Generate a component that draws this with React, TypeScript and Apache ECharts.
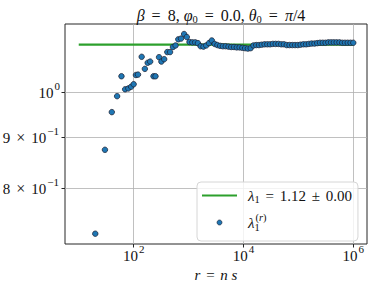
import { useEffect, useRef } from "react";
import * as echarts from "echarts";

// r = n s values (x) and the running estimate lambda_1^(r) (y)
const rValues = [
  20, 30, 40, 50, 60, 70, 80, 90, 100, 110, 120, 140, 160, 180, 200, 230, 250, 290, 320, 360,
  410, 460, 520, 580, 650, 730, 830, 930, 1040, 1170, 1320, 1480, 1660, 1870, 2100, 2360, 2650,
  2980, 3350, 3760, 4220, 4750, 5330, 5990, 6730, 7560, 8490, 9540, 10720, 12040, 13530, 15190,
  17070, 19170, 21540, 24200, 27180, 30530, 34300, 38530, 43280, 48620, 54620, 61350, 68920,
  77420, 86970, 97700, 109750, 123280, 138490, 155570, 174750, 196300, 220510, 247710, 278260,
  312570, 351120, 394420, 443060, 497700, 559080, 628030, 705480, 792480, 890220, 1000000,
];
const lambdaValues = [
  0.719, 0.874, 0.954, 0.99, 1.037, 1.006, 1.008, 1.012, 1.018, 1.04, 1.041, 1.085, 1.055, 1.07,
  1.073, 1.037, 1.037, 1.084, 1.073, 1.079, 1.097, 1.097, 1.11, 1.114, 1.13, 1.132, 1.144, 1.136,
  1.123, 1.122, 1.122, 1.12, 1.112, 1.111, 1.114, 1.12, 1.127, 1.118, 1.115, 1.113, 1.112, 1.112,
  1.111, 1.11, 1.11, 1.109, 1.109, 1.108, 1.107, 1.106, 1.107, 1.114, 1.115, 1.115, 1.116, 1.117,
  1.117, 1.117, 1.118, 1.118, 1.118, 1.117, 1.117, 1.115, 1.115, 1.115, 1.115, 1.115, 1.116,
  1.117, 1.117, 1.118, 1.119, 1.119, 1.12, 1.121, 1.121, 1.121, 1.122, 1.122, 1.122, 1.122,
  1.122, 1.121, 1.121, 1.121, 1.121, 1.121,
];
const fitValue = 1.116;
const fitError = 0.0;
const fitRange = [10, 1000000];
const xTicks = [100, 10000, 1000000];
const yTicks = [0.8, 0.9, 1.0];
const xLimits = [5.62, 1778000];
const yLimits = [0.702, 1.171];

const FONT = "'Liberation Serif', 'DejaVu Serif', serif";
const INK = "#111111";

export default function App() {
  const ref = useRef<HTMLDivElement>(null);
  useEffect(() => {
    const chart = echarts.init(ref.current!, null, { renderer: "svg" });
    const base = { fontFamily: FONT, color: INK, fontWeight: "normal" };
    const tickRich = {
      m: { ...base, fontSize: 15, lineHeight: 17, verticalAlign: "bottom" },
      op: { ...base, fontSize: 16, lineHeight: 17, verticalAlign: "bottom", padding: [0, 6, 0, 6] },
      s: { ...base, fontSize: 11, lineHeight: 11, padding: [0, 0, 9, 1], verticalAlign: "bottom" },
      sm: { ...base, fontSize: 11, lineHeight: 11, padding: [0, 1, 9, 1], verticalAlign: "bottom" },
    };
    const mk = (size: number, eqPad: number) => ({
      m: { ...base, fontSize: size, lineHeight: 17, verticalAlign: "middle" },
      e: { ...base, fontSize: size, lineHeight: 17, verticalAlign: "middle", padding: [0, eqPad, 0, eqPad] },
      i: { ...base, fontSize: size, lineHeight: 17, fontStyle: "italic", verticalAlign: "middle" },
      b: { ...base, fontSize: 10.5, lineHeight: 10, padding: [8, 0, 0, 0], verticalAlign: "middle" },
      b1: { ...base, fontSize: 10.5, lineHeight: 10, width: 1, padding: [9, 0, 0, 0], verticalAlign: "middle" },
      p: { ...base, fontSize: 10.5, lineHeight: 10, padding: [0, 0, 10, 0], verticalAlign: "middle" },
      pi: { ...base, fontSize: 10.5, lineHeight: 10, fontStyle: "italic", padding: [0, 0, 10, 0], verticalAlign: "middle" },
    });
    const mathRich = mk(15, 2);
    const titleRich = mk(16, 3);
    const fitName = "fit";
    const ptsName = "pts";
    chart.setOption({
      animation: false,
      title: {
        text: "{i|β} {e|=} {m|8,} {i|φ}{b|0} {e|=} {m|0.0,} {i|θ}{b|0} {e|=} {i|π}{m|/4}",
        left: 216,
        top: 2,
        textAlign: "center",
        textStyle: { ...base, fontSize: 16, rich: titleRich },
      },
      grid: {
        left: 65,
        right: 7,
        top: 24,
        bottom: 44,
        containLabel: false,
        outerBoundsMode: "none",
        show: true,
        borderColor: "#262626",
        borderWidth: 1,
        backgroundColor: "transparent",
      },
      legend: {
        orient: "vertical",
        left: 197,
        top: 182,
        padding: [4, 6, 8, 5],
        itemGap: 7,
        itemWidth: 35,
        itemHeight: 5,
        borderColor: "#d6d6d6",
        borderWidth: 1,
        borderRadius: 4,
        backgroundColor: "rgba(255,255,255,0.8)",
        data: [
          { name: fitName, icon: "path://M0,0L35,0L35,2.2L0,2.2Z" },
          { name: ptsName, itemStyle: { borderWidth: 0.6 } },
        ],
        formatter: (name: string) =>
          name === fitName
            ? `{i|λ}{b|1} {e|=} {m|${fitValue.toFixed(2)}} {e|±} {m|${fitError.toFixed(2)}}`
            : "{i|λ}{b1|1}{p|(}{pi|r}{p|)}",
        textStyle: { ...base, fontSize: 15, padding: [0, 0, 0, 6], rich: mathRich },
      },
      xAxis: {
        type: "log",
        logBase: 10,
        min: xLimits[0],
        max: xLimits[1],
        name: "{i|r} {e|=} {i|n s}",
        nameLocation: "middle",
        nameGap: 22,
        nameTextStyle: { ...base, fontSize: 15, rich: mathRich },
        axisLine: { show: false },
        axisTick: {
          show: true,
          length: 3.5,
          customValues: xTicks,
          lineStyle: { color: "#262626", width: 1 },
        },
        splitLine: { show: true, lineStyle: { color: "#b0b0b0", width: 0.8 } },
        minorTick: { show: false },
        axisLabel: {
          customValues: xTicks,
          margin: 2,
          formatter: (v: number) => `{m|10}{s|${Math.round(Math.log10(v))}}`,
          rich: tickRich,
        },
      },
      yAxis: {
        type: "log",
        logBase: 10,
        min: yLimits[0],
        max: yLimits[1],
        axisLine: { show: false },
        axisTick: {
          show: true,
          length: 3.5,
          customValues: yTicks,
          lineStyle: { color: "#262626", width: 1 },
        },
        splitLine: { show: true, lineStyle: { color: "#b0b0b0", width: 0.8 } },
        axisLabel: {
          customValues: yTicks,
          margin: 5,
          formatter: (v: number) => {
            if (Math.abs(v - 1) < 1e-6) return "{m|10}{s|0}";
            const mant = Math.round(v * 10);
            return `{m|${mant}}{op|×}{m|10}{sm|−1}`;
          },
          rich: tickRich,
        },
      },
      series: [
        {
          name: fitName,
          type: "line",
          data: fitRange.map((r) => [r, fitValue]),
          symbol: "none",
          lineStyle: { color: "#2ca02c", width: 2.2 },
          itemStyle: { color: "#2ca02c" },
          z: 2,
        },
        {
          name: ptsName,
          type: "scatter",
          data: rValues.map((r, i) => [r, lambdaValues[i]]),
          symbol: "circle",
          symbolSize: 5.5,
          itemStyle: { color: "#1f77b4", borderColor: "#1a1a2a", borderWidth: 0.7, opacity: 1 },
          z: 3,
        },
      ],
    });
    return () => chart.dispose();
  }, []);
  return (
    <div
      ref={ref}
      style={{ position: "absolute", left: 0, top: 0, width: 374, height: 288 }}
    />
  );
}
